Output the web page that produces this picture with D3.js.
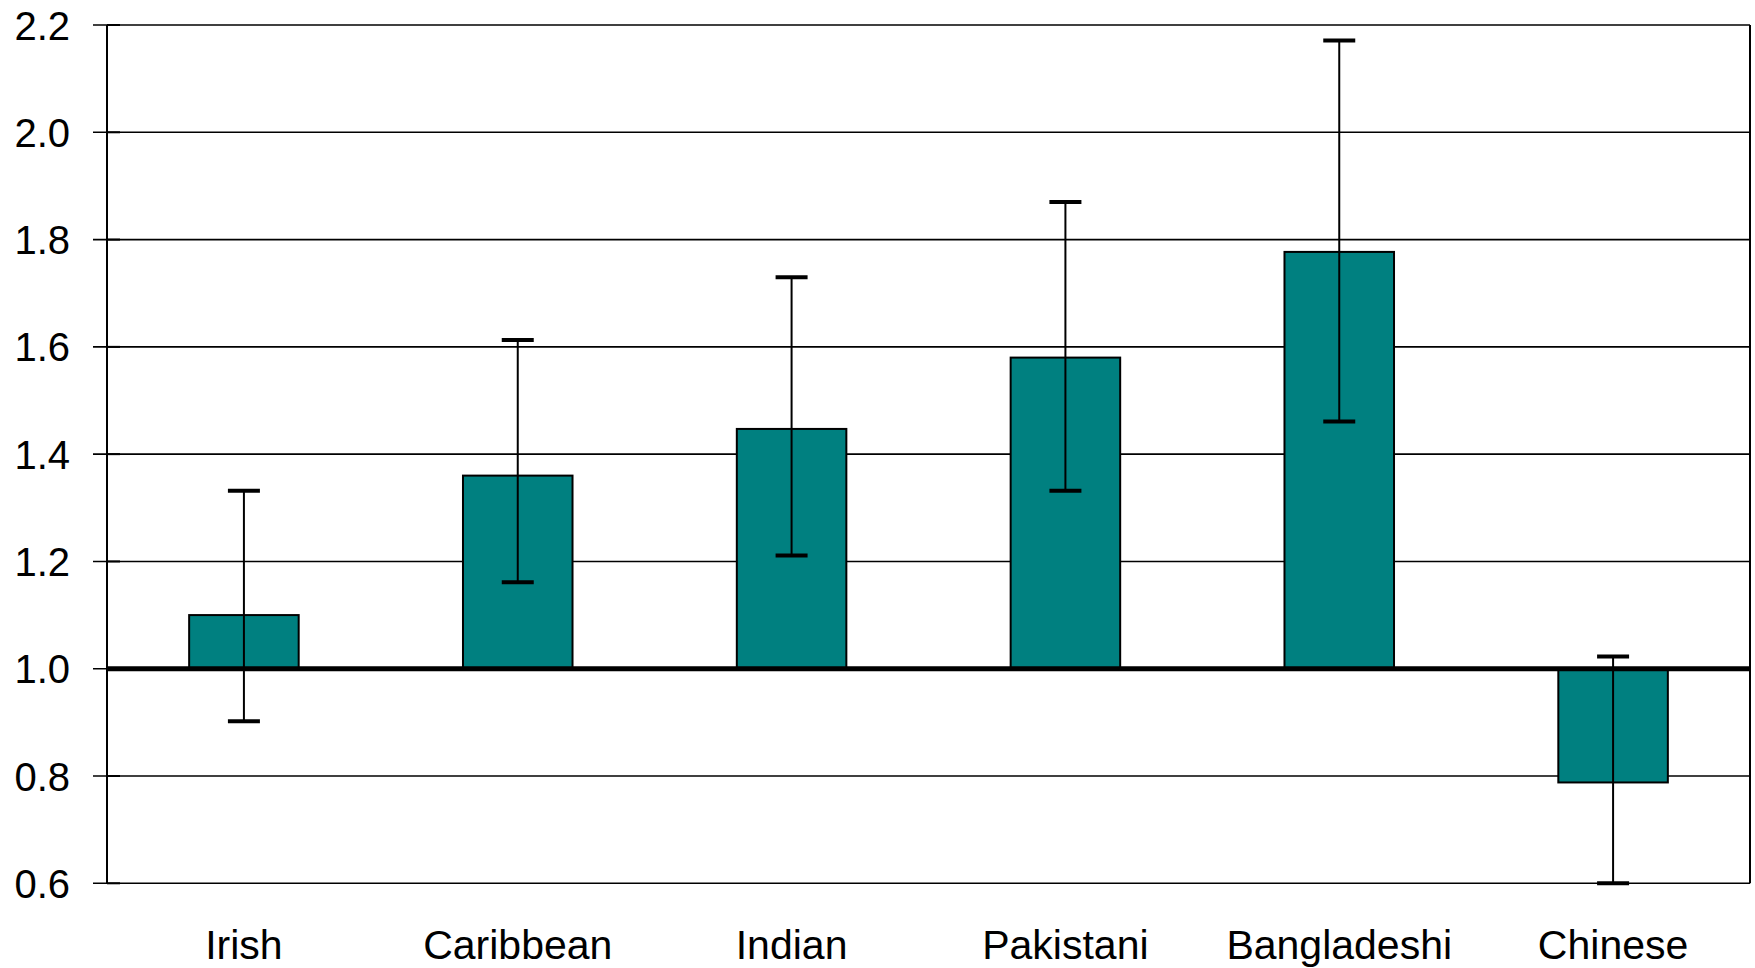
<!DOCTYPE html>
<html><head><meta charset="utf-8">
<script src="https://cdn.jsdelivr.net/npm/d3@7"></script>
<style>html,body{margin:0;padding:0;background:#fff;}svg{display:block;font-family:"Liberation Sans",Arial,sans-serif;}</style>
</head><body>
<svg id="chart" width="1755" height="968"></svg>
<script>
const categories = ["Irish","Caribbean","Indian","Pakistani","Bangladeshi","Chinese"];
const values = [1.10, 1.36, 1.447, 1.58, 1.777, 0.788];
const errLow = [0.902, 1.161, 1.211, 1.332, 1.461, 0.60];
const errHigh = [1.332, 1.613, 1.730, 1.870, 2.171, 1.023];
const yTicks = [0.6,0.8,1.0,1.2,1.4,1.6,1.8,2.0,2.2];
const baseline = 1.0;

(function(){
const svg = d3.select("#chart");
const mLeft = 107, mRight = 1750, mTop = 25, mBottom = 883.3;
const x = d3.scaleBand().domain(categories).range([mLeft,mRight]).paddingInner(0.6).paddingOuter(0.3);
const y = d3.scaleLinear().domain([0.6,2.2]).range([mBottom,mTop]);

// gridlines
svg.append("g").selectAll("line").data(yTicks).join("line")
  .attr("x1",93).attr("x2",mRight).attr("y1",d=>y(d)).attr("y2",d=>y(d))
  .attr("stroke","#000").attr("stroke-width",1.6);

// y axis
const yAxis = d3.axisLeft(y).tickValues(yTicks).tickFormat(d3.format(".1f")).tickSize(0).tickPadding(0);
const ga = svg.append("g").attr("transform",`translate(${mLeft},0)`).call(yAxis);
ga.select(".domain").remove();
ga.selectAll("text").attr("x",-37).attr("dy","0.35em").attr("font-size","40px").attr("fill","#000")
  .attr("font-family","'Liberation Sans',Arial,sans-serif");
// small inner ticks
svg.append("g").selectAll("line").data(yTicks).join("line")
  .attr("x1",mLeft).attr("x2",mLeft+13).attr("y1",d=>y(d)).attr("y2",d=>y(d))
  .attr("stroke","#000").attr("stroke-width",2);

// plot border
svg.append("line").attr("x1",mLeft).attr("x2",mLeft).attr("y1",mTop).attr("y2",mBottom).attr("stroke","#000").attr("stroke-width",2);
svg.append("line").attr("x1",mRight).attr("x2",mRight).attr("y1",mTop).attr("y2",mBottom).attr("stroke","#000").attr("stroke-width",2);

// bars
const bw = x.bandwidth();
svg.append("g").selectAll("rect").data(categories).join("rect")
  .attr("x",d=>x(d)).attr("width",bw)
  .attr("y",(d,i)=>y(Math.max(values[i],baseline)))
  .attr("height",(d,i)=>Math.abs(y(values[i])-y(baseline)))
  .attr("fill","#008080").attr("stroke","#000").attr("stroke-width",2);

// baseline thick line
svg.append("line").attr("x1",mLeft).attr("x2",mRight).attr("y1",y(baseline)).attr("y2",y(baseline))
  .attr("stroke","#000").attr("stroke-width",5);

// error bars
const eg = svg.append("g");
categories.forEach((c,i)=>{
  const cx = x(c)+bw/2;
  eg.append("line").attr("x1",cx).attr("x2",cx).attr("y1",y(errLow[i])).attr("y2",y(errHigh[i]))
    .attr("stroke","#000").attr("stroke-width",2);
  [errLow[i],errHigh[i]].forEach(v=>{
    eg.append("line").attr("x1",cx-16).attr("x2",cx+16).attr("y1",y(v)).attr("y2",y(v))
      .attr("stroke","#000").attr("stroke-width",4);
  });
});

// x labels
svg.append("g").selectAll("text").data(categories).join("text")
  .attr("x",d=>x(d)+bw/2).attr("y",959).attr("text-anchor","middle")
  .attr("font-size","41px").attr("fill","#000").text(d=>d);
})();
</script>
</body></html>
